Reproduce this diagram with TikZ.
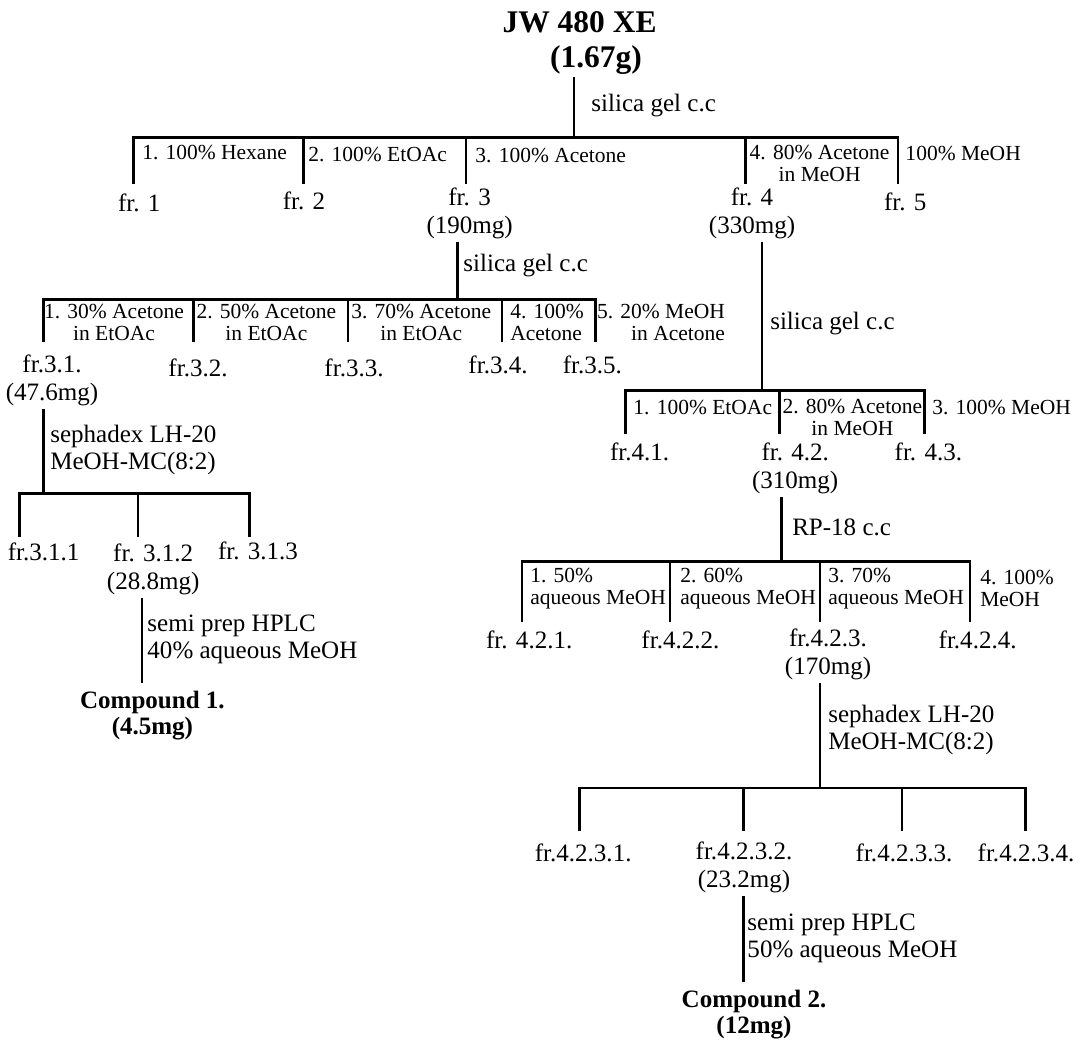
\documentclass[tikz,border=0pt]{standalone}
\usepackage{fontspec}
\setmainfont{Liberation Serif}
\definecolor{ink}{HTML}{000000}
\tikzset{
  every picture/.style={line join=miter, line cap=butt},
  tree/.style={draw=ink, line width=2pt},
  head/.style={font=\fontsize{22.4}{25}\selectfont\bfseries, text=ink, inner sep=2pt},
  frac/.style={font=\fontsize{17.8}{19.9}\selectfont, text=ink, align=center, inner sep=2pt},
  meth/.style={font=\fontsize{17.8}{19.4}\selectfont, text=ink, align=left, anchor=west, inner sep=0pt},
  solv/.style={font=\fontsize{15.3}{15.6}\selectfont, text=ink, align=center, inner sep=0pt},
  cpd/.style={font=\fontsize{17.8}{18.5}\selectfont\bfseries, text=ink, align=center, inner sep=4pt},
}

\begin{document}
\begin{tikzpicture}
  \useasboundingbox (0,0) rectangle (27.025,-26.025);
  % ======================= JW 480 XE =======================
  \node[head] (root) at (14.49,-0.56) {JW 480 XE};
  \node[head] (rootm) at (14.9,-1.49) {(1.67g)};
  \coordinate (j1) at (14.35,-3.43);
  \foreach \n/\x in {a1/3.33,a2/7.58,a3/11.65,a4/18.63,a5/22.45}
    \coordinate (\n) at (\x,-4.6);
  \draw[tree] (rootm.south -| j1) -- (j1);
  \draw[tree] (a1) -- (a1 |- j1) -- (a5 |- j1) -- (a5);
  \foreach \n in {a2,a3,a4} \draw[tree] (\n |- j1) -- (\n);
  \node[meth] (m1) at (14.78,-2.63) {silica gel c.c};
  \node[solv, anchor=west] (s11) at (3.55,-3.8) {1. 100\% Hexane};
  \node[solv, anchor=west] (s12) at (7.7,-3.86) {2. 100\% EtOAc};
  \node[solv, anchor=west] (s13) at (11.88,-3.88) {3. 100\% Acetone};
  \node[solv] (s14) at (20.49,-4.09) {4. 80\% Acetone\\in MeOH};
  \node[solv, anchor=west] (s15) at (22.63,-3.83) {100\% MeOH};
  \node[frac] (f1) at (3.48,-5.08) {fr. 1};
  \node[frac] (f2) at (7.6,-5.03) {fr. 2};
  \node[frac] (f3) at (11.74,-5.33) {fr. 3\\(190mg)};
  \node[frac] (f4) at (18.8,-5.34) {fr. 4\\(330mg)};
  \node[frac] (f5) at (22.63,-5.05) {fr. 5};

  % ======================= fr. 3 =======================
  \coordinate (j2) at (11.43,-7.48);
  \foreach \n/\x in {b1/1.08,b2/4.83,b3/8.7,b4/12.55,b5/14.88}
    \coordinate (\n) at (\x,-8.55);
  \draw[tree] (f3.south -| j2) -- (j2);
  \draw[tree] (b1) -- (b1 |- j2) -- (b5 |- j2) -- (b5);
  \foreach \n in {b2,b3,b4} \draw[tree] (\n |- j2) -- (\n);
  \node[meth] (m2) at (11.58,-6.63) {silica gel c.c};
  \node[solv] (s21) at (2.85,-8.05) {1. 30\% Acetone\\in EtOAc};
  \node[solv] (s22) at (6.66,-8.05) {2. 50\% Acetone\\in EtOAc};
  \node[solv] (s23) at (10.53,-8.05) {3. 70\% Acetone\\in EtOAc};
  \node[solv, align=left, anchor=west] (s24) at (12.75,-8.05) {4. 100\%\\Acetone};
  \node[solv, align=right, anchor=east] (s25) at (18.13,-8.05) {5. 20\% MeOH\\in Acetone};
  \node[frac] (f31) at (1.3,-9.5) {fr.3.1.\\(47.6mg)};
  \node[frac] (f32) at (4.95,-9.2) {fr.3.2.};
  \node[frac] (f33) at (8.85,-9.2) {fr.3.3.};
  \node[frac] (f34) at (12.45,-9.12) {fr.3.4.};
  \node[frac] (f35) at (14.81,-9.12) {fr.3.5.};

  % ======================= fr. 3.1 =======================
  \coordinate (j3) at (1.08,-12.33);
  \foreach \n/\x in {c1/0.48,c2/3.45,c3/6.23}
    \coordinate (\n) at (\x,-13.43);
  \draw[tree] (f31.south -| j3) -- (j3);
  \draw[tree] (c1) -- (c1 |- j3) -- (c3 |- j3) -- (c3);
  \draw[tree] (c2 |- j3) -- (c2);
  \node[meth] (m3) at (1.25,-11.25) {sephadex LH-20\\MeOH-MC(8:2)};
  \node[frac] (f311) at (1.09,-13.8) {fr.3.1.1};
  \node[frac] (f312) at (3.83,-14.23) {fr. 3.1.2\\(28.8mg)};
  \node[frac] (f313) at (6.45,-13.78) {fr. 3.1.3};
  \coordinate (j4) at (3.55,-17.08);
  \draw[tree] (f312.south -| j4) -- (j4);
  \node[meth] (m4) at (3.68,-15.98) {semi prep HPLC\\40\% aqueous MeOH};
  \node[cpd] (cpd1) at (3.81,-17.88) {Compound 1.\\(4.5mg)};

  % ======================= fr. 4 =======================
  \coordinate (j5) at (19.05,-9.76);
  \foreach \n/\x in {e1/15.63,e2/19.48,e3/23.12}
    \coordinate (\n) at (\x,-10.85);
  \draw[tree] (f4.south -| j5) -- (j5);
  \draw[tree] (e1) -- (e1 |- j5) -- (e3 |- j5) -- (e3);
  \draw[tree] (e2 |- j5) -- (e2);
  \node[meth] (m5) at (19.25,-8.08) {silica gel c.c};
  \node[solv, anchor=west] (s51) at (15.83,-10.18) {1. 100\% EtOAc};
  \node[solv] (s52) at (21.31,-10.44) {2. 80\% Acetone\\in MeOH};
  \node[solv, anchor=west] (s53) at (23.3,-10.18) {3. 100\% MeOH};
  \node[frac] (f41) at (15.99,-11.3) {fr.4.1.};
  \node[frac] (f42) at (19.88,-11.7) {fr. 4.2.\\(310mg)};
  \node[frac] (f43) at (23.21,-11.3) {fr. 4.3.};

  % ======================= fr. 4.2 =======================
  \coordinate (j6) at (19.53,-14.03);
  \foreach \n/\x in {g1/13.05,g2/16.75,g3/20.5,g4/24.25}
    \coordinate (\n) at (\x,-15.55);
  \draw[tree] (f42.south -| j6) -- (j6);
  \draw[tree] (g1) -- (g1 |- j6) -- (g4 |- j6) -- (g4);
  \foreach \n in {g2,g3} \draw[tree] (\n |- j6) -- (\n);
  \node[meth] (m6) at (19.8,-13.18) {RP-18 c.c};
  \node[solv, align=left, anchor=west] (s61) at (13.25,-14.71) {1. 50\%\\aqueous MeOH};
  \node[solv, align=left, anchor=west] (s62) at (17.0,-14.71) {2. 60\%\\aqueous MeOH};
  \node[solv, align=left, anchor=west] (s63) at (20.7,-14.71) {3. 70\%\\aqueous MeOH};
  \node[solv, align=left, anchor=west] (s64) at (24.5,-14.71) {4. 100\%\\MeOH};
  \node[frac] (f421) at (13.23,-16.0) {fr. 4.2.1.};
  \node[frac] (f422) at (17.01,-16.0) {fr.4.2.2.};
  \node[frac] (f423) at (20.7,-16.35) {fr.4.2.3.\\(170mg)};
  \node[frac] (f424) at (24.44,-16.0) {fr.4.2.4.};

  % ======================= fr. 4.2.3 =======================
  \coordinate (j7) at (20.5,-19.7);
  \foreach \n/\x in {h1/14.48,h2/18.58,h3/22.55,h4/25.63}
    \coordinate (\n) at (\x,-20.78);
  \draw[tree] (f423.south -| j7) -- (j7);
  \draw[tree] (h1) -- (h1 |- j7) -- (h4 |- j7) -- (h4);
  \foreach \n in {h2,h3} \draw[tree] (\n |- j7) -- (\n);
  \node[meth] (m7) at (20.7,-18.25) {sephadex LH-20\\MeOH-MC(8:2)};
  \node[frac] (f4231) at (14.58,-21.33) {fr.4.2.3.1.};
  \node[frac] (f4232) at (18.6,-21.69) {fr.4.2.3.2.\\(23.2mg)};
  \node[frac] (f4233) at (22.6,-21.33) {fr.4.2.3.3.};
  \node[frac] (f4234) at (25.65,-21.33) {fr.4.2.3.4.};
  \coordinate (j8) at (18.58,-24.55);
  \draw[tree] (f4232.south -| j8) -- (j8);
  \node[meth] (m8) at (18.68,-23.46) {semi prep HPLC\\50\% aqueous MeOH};
  \node[cpd] (cpd2) at (18.85,-25.36) {Compound 2.\\(12mg)};
\end{tikzpicture}
\end{document}
